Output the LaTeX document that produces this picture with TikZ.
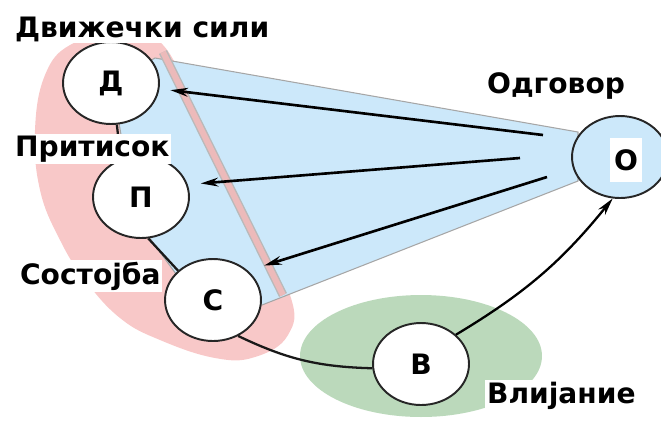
\documentclass[tikz,border=0pt]{standalone}
\usepackage{fontspec}
\setmainfont{DejaVu Sans}
\usepackage{tikz}
\usetikzlibrary{shapes.geometric, arrows.meta, positioning, calc}
\definecolor{pinkblob}{RGB}{248,200,200}
\definecolor{bluefan}{RGB}{204,232,250}
\definecolor{greenblob}{RGB}{187,217,187}
\definecolor{stripred}{RGB}{236,186,186}

\begin{document}
\begin{tikzpicture}[x=0.02cm, y=-0.02cm,
    state/.style={ellipse, draw=black!85, line width=1.1pt, fill=white,
      minimum width=1.92cm, minimum height=1.64cm, inner sep=0pt,
      font=\bfseries\fontsize{16}{19}\selectfont},
    tag/.style={fill=white, inner sep=1pt, anchor=base west,
      font=\bfseries\fontsize{16}{19}\selectfont},
    link/.style={line width=1.3pt, black!90},
    push/.style={line width=1.5pt, black, -{Stealth[length=10pt,width=5pt]}} ]

    \clip (0,0) rectangle (661,420);

    % Backgrounds
    \fill[pinkblob] plot[smooth cycle, tension=0.7] coordinates {(110,38)
      (160,42) (200,120) (250,220) (290,295) (288,335) (255,357) (215,358)
      (160,340) (120,318) (85,280) (60,240) (40,190) (35,130) (45,75) (70,45)};
    \fill[greenblob] (421,356) ellipse [x radius=2.42cm, y radius=1.22cm];
    \filldraw[bluefan, draw=gray!70, line width=0.6pt] (155,58) -- (578,132)
    -- (578,181) -- (262,305) -- (213,300) -- (176,274) -- (149,237) --
    (141,197) -- (125,158) -- (119,123) -- (111,83) -- cycle;

    % Strip
    \draw[gray!55, line width=5pt] (163,52) -- (283,295);
    \draw[stripred, line width=3.4pt] (163,52) -- (283,295);

    % States
    \node[state] (d) at (111,83) {Д};
    \node[state] (p) at (141,197) {П};
    \node[state] (c) at (213,300) {С};
    \node[state] (b) at (421,364) {В};
    \node[state, fill=bluefan] (o) at (620,157) {};
    \node[fill=white, inner sep=0pt, minimum width=0.64cm,
      minimum height=0.88cm, font=\bfseries\fontsize{16}{19}\selectfont]
      (oletter) at (626,160) {О};

    % Links
    \draw[link] (d.-82) -- (p.118);
    \draw[link] (p.-80) -- (c.140);
    \draw[link] (c.-55) to[bend right=12] (b.185);
    \draw[push, line width=1.3pt] (b.40) to[bend right=10] (o.-100);

    % Response arrows
    \coordinate (od) at (543,135);
    \coordinate (op) at (520,158);
    \coordinate (oc) at (547,177);
    \draw[push, shorten >=0.22cm] (od) -- (d);
    \draw[push, shorten >=0.26cm] (op) -- (p.15);
    \draw[push, shorten >=0.34cm] (oc) -- (c.40);

    % Labels
    \node[tag] (lforces) at (13,37) {Движечки сили};
    \node[tag] (lresponse) at (485,93) {Одговор};
    \node[tag] (lpressure) at (13,156) {Притисок};
    \node[tag] (lstate) at (18,284) {Состојба};
    \node[tag] (limpact) at (485,403) {Влијание};

\end{tikzpicture}
\end{document}
